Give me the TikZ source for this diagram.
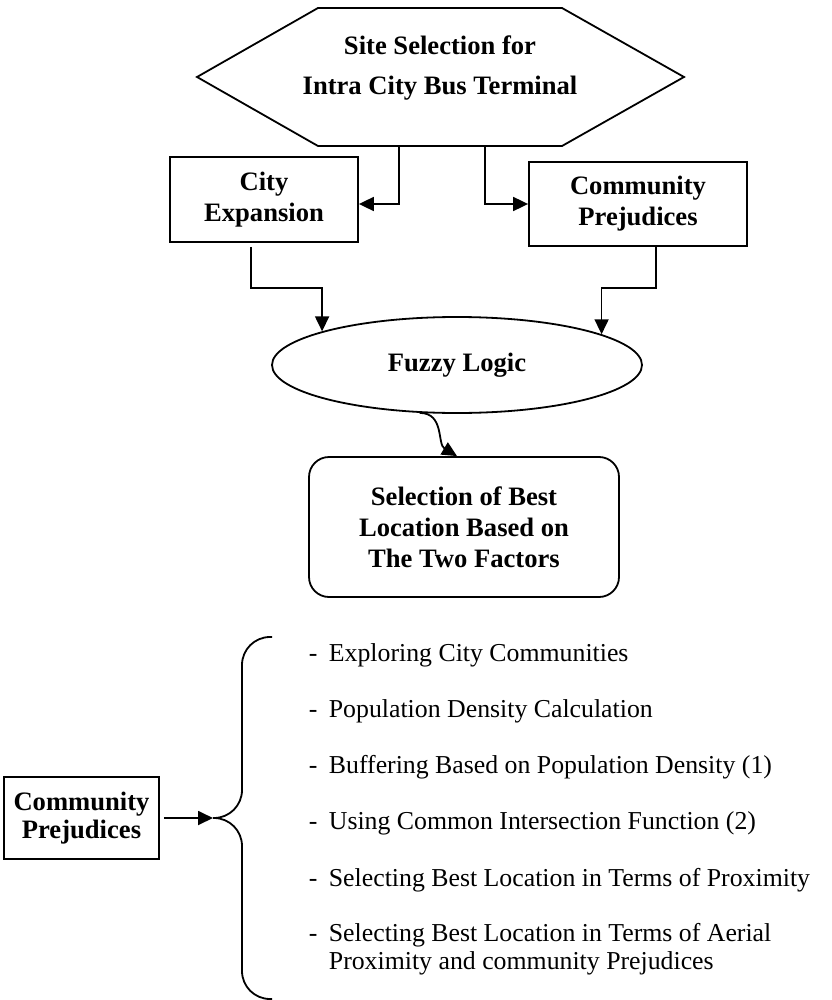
\documentclass[tikz,border=0pt]{standalone}
\usepackage{fontspec}
\setmainfont{Liberation Serif}
\usetikzlibrary{arrows.meta}
\usetikzlibrary{shapes.geometric}

\begin{document}
\begin{tikzpicture}[x=0.5pt,y=-0.5pt,line width=0.9pt,
	box/.style = {draw, font=\fontsize{13.3}{15.5}\selectfont\bfseries, align=center, inner sep=0pt},
	arr/.style = {-{Triangle[length=7.5pt,width=7pt]}},
	item/.style = {anchor=west, align=left, inner sep=0pt, font=\fontsize{12.9}{14}\selectfont}]
	\useasboundingbox (0,0) rectangle (831,1000);
	% upper flow chart
	\node[font=\fontsize{13.3}{15.5}\selectfont\bfseries, align=center] (site) at (440,68) {Site Selection for\\[4.5pt]Intra City Bus Terminal};
	\draw ([shift={(-122,-60)}]site.center) -- ([shift={(122,-60)}]site.center) -- ([shift={(244,9)}]site.center)
		-- ([shift={(122,78)}]site.center) -- ([shift={(-122,78)}]site.center) -- ([shift={(-243,9)}]site.center) -- cycle;
	\node[box, minimum width=94pt, minimum height=42.5pt] (city) at (264,199.5) {City\\Expansion};
	\node[box, minimum width=109pt, minimum height=42pt] (comm) at (638,204) {Community\\Prejudices};
	\node[box, ellipse, minimum width=185pt, minimum height=48pt] (fuzzy) at (457,365) {Fuzzy Logic};
	\node[box, rounded corners=10pt, minimum width=155pt, minimum height=70pt] (best) at (464,527) {Selection of Best\\Location Based on\\The Two Factors};
	\draw[arr] ([shift={(-41,78)}]site.center) |- ([yshift=-2.25pt]city.east);
	\draw[arr] ([shift={(45,78)}]site.center) |- (comm.west);
	\draw[arr] ([xshift=-6.5pt,yshift=-2pt]city.south) -- ++(0,41) -| (fuzzy.166);
	\draw[arr] ([xshift=9pt]comm.south) -- ++(0,41) -| (fuzzy.12.6);
	\draw[arr] (fuzzy.232) .. controls +(25,0) and +(-20,-12) .. ([xshift=-3.5pt]best.north);
	% community prejudices steps
	\node[box, minimum width=77.5pt, minimum height=41pt] (cp) at (81.5,818) {Community\\[-1.5pt]Prejudices};
	\coordinate (tip) at (213,818);
	\coordinate (btop) at (272,637);
	\coordinate (bbot) at (272,999);
	\draw[arr] ([xshift=2pt]cp.east) -- (tip);
	\draw[rounded corners=14pt] (btop) -| ([xshift=14.5pt]tip) -- (tip);
	\draw[rounded corners=14pt] (bbot) -| ([xshift=14.5pt]tip) -- (tip);
	\foreach \txt [count=\i from 0] in {Exploring City Communities, Population Density Calculation,
		Buffering Based on Population Density (1), Using Common Intersection Function (2),
		Selecting Best Location in Terms of Proximity}
		\node[item] (item\i) at (308,{655+56.25*\i}) {\makebox[10pt][l]{-}\txt};
	\node[item] (item5) at (308,949) {\makebox[10pt][l]{-}Selecting Best Location in Terms of Aerial\\\hspace*{10pt}Proximity and community Prejudices};
\end{tikzpicture}
\end{document}
